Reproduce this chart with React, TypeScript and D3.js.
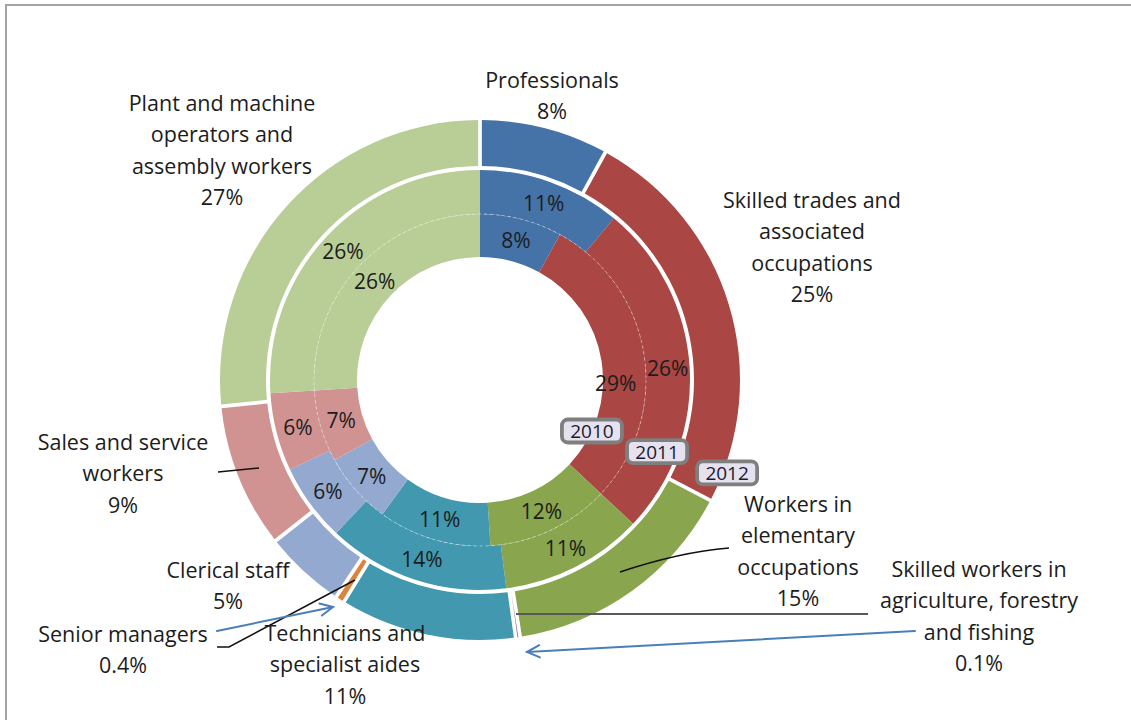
import * as d3 from "d3";

const W = 1131;
const H = 720;
const CX = 480;
const CY = 380;
const FONT = "'Open Sans', 'Noto Sans', sans-serif";
const LINE_H = 31.5;

// categories clockwise from 12 o'clock
const CATEGORIES = [
  "Professionals",
  "Skilled trades and associated occupations",
  "Workers in elementary occupations",
  "Skilled workers in agriculture, forestry and fishing",
  "Technicians and specialist aides",
  "Senior managers",
  "Clerical staff",
  "Sales and service workers",
  "Plant and machine operators and assembly workers",
];
const COLORS = [
  "#4572A7", "#AA4643", "#89A54E", "#71588F", "#4198AF",
  "#DB843D", "#93A9CF", "#D19392", "#B9CD96",
];
const VALUES_2010 = [8, 29, 12, 0, 11, 0, 7, 7, 26];
const VALUES_2011 = [11, 26, 11, 0, 14, 0, 6, 6, 26];
const VALUES_2012 = [8, 25, 15, 0.1, 11, 0.4, 5, 9, 27];
const YEARS = ["2010", "2011", "2012"];

// wrapped text of the outer (2012) labels
const LABEL_LINES = [
  ["Professionals"],
  ["Skilled trades and", "associated", "occupations"],
  ["Workers in", "elementary", "occupations"],
  ["Skilled workers in", "agriculture, forestry", "and fishing"],
  ["Technicians and", "specialist aides"],
  ["Senior managers"],
  ["Clerical staff"],
  ["Sales and service", "workers"],
  ["Plant and machine", "operators and", "assembly workers"],
];

// first line centre of each outer label, relative to the pie centre
const LABEL_POS: [number, number][] = [
  [72, -301], [332, -181], [318, 123], [499, 188], [-135, 252],
  [-357, 253], [-252, 189], [-357, 61], [-258, -278],
];

const RINGS = [
  { values: VALUES_2010, inner: 123, outer: 166, pad: 0 },
  { values: VALUES_2011, inner: 166, outer: 210, pad: 0 },
  { values: VALUES_2012, inner: 214, outer: 260, pad: 0.011 },
];

// year tags: angle (deg clockwise from top) and radius
const YEAR_TAGS = [
  { a: 114.5, r: 123 },
  { a: 112, r: 191 },
  { a: 110.6, r: 264 },
];

// excel moved this one data label off its centroid
const NUDGE: Record<string, [number, number]> = { "0-1": [-7, 26] };

const fmt = (v: number) => `${v}%`;

function Arrow({ x1, y1, x2, y2 }: { x1: number; y1: number; x2: number; y2: number }) {
  const ang = Math.atan2(y2 - y1, x2 - x1);
  const L = 14;
  const s = 0.45;
  const p1 = [x2 - L * Math.cos(ang - s), y2 - L * Math.sin(ang - s)];
  const p2 = [x2 - L * Math.cos(ang + s), y2 - L * Math.sin(ang + s)];
  return (
    <g stroke="#4A7EBB" strokeWidth={2} fill="none" strokeLinecap="round">
      <line x1={x1} y1={y1} x2={x2} y2={y2} />
      <path d={`M${p1[0]},${p1[1]}L${x2},${y2}L${p2[0]},${p2[1]}`} />
    </g>
  );
}

export default function App() {
  const rings = RINGS.map((ring) => {
    const pie = d3
      .pie<number>()
      .sort(null)
      .value((d) => d)
      .padAngle(ring.pad);
    const arc = d3
      .arc<d3.PieArcDatum<number>>()
      .innerRadius(ring.inner)
      .outerRadius(ring.outer);
    return { ...ring, arcs: pie(ring.values), arc };
  });

  return (
    <svg
      width={W}
      height={H}
      style={{ position: "absolute", left: 0, top: 0, background: "#fff" }}
      fontFamily={FONT}
    >
      {/* frame */}
      <path d={`M6,${H}V5H${W}`} fill="none" stroke="#a3a3a3" strokeWidth={2} />

      <g transform={`translate(${CX},${CY})`}>
        {rings.map((ring, ri) => (
          <g key={ri}>
            {ring.arcs.map((a, i) =>
              a.data > 0 ? <path key={i} d={ring.arc(a) || ""} fill={COLORS[i]} /> : null
            )}
          </g>
        ))}
        {/* faint dashed split between 2010 and 2011 */}
        <circle r={166} fill="none" stroke="#fff" strokeOpacity={0.55} strokeWidth={0.8} strokeDasharray="3 3" />

        {/* data labels of the two inner rings */}
        {rings.slice(0, 2).map((ring, ri) =>
          ring.arcs.map((a, i) => {
            if (a.data <= 0) return null;
            const [x, y] = ring.arc.centroid(a);
            const n = NUDGE[`${ri}-${i}`] || [0, 0];
            return (
              <text
                key={`${ri}-${i}`}
                x={x + n[0]}
                y={y + n[1]}
                textAnchor="middle"
                dominantBaseline="central"
                fontSize={21}
                fill="#1c1c1c"
              >
                {fmt(a.data)}
              </text>
            );
          })
        )}

        {/* year tags */}
        {YEAR_TAGS.map((t, i) => {
          const rad = (t.a * Math.PI) / 180;
          const x = t.r * Math.sin(rad);
          const y = -t.r * Math.cos(rad);
          return (
            <g key={i} transform={`translate(${x},${y})`}>
              <rect x={-30} y={-11.5} width={60} height={23} rx={6} fill="#E6E1EE" stroke="#7f7f7f" strokeWidth={3.8} />
              <text textAnchor="middle" dominantBaseline="central" fontSize={19} fill="#1a1a2e">
                {YEARS[i]}
              </text>
            </g>
          );
        })}
      </g>

      {/* leader lines */}
      <g stroke="#111" strokeWidth={1.5} fill="none">
        <path d="M218,472L259,468" />
        <path d="M620,572Q680,552 729,548" />
        <path d="M217,647H229L355,580" />
      </g>
      <line x1={516} y1={614} x2={868} y2={614} stroke="#595959" strokeWidth={2} />
      <Arrow x1={915} y1={631} x2={527} y2={652} />
      <Arrow x1={217} y1={631} x2={333} y2={607} />

      {/* outer labels */}
      {LABEL_LINES.map((lines, i) => {
        const [dx, dy] = LABEL_POS[i];
        const all = [...lines, fmt(VALUES_2012[i])];
        return (
          <text key={i} textAnchor="middle" fontSize={21.5} fill="#1c1c1c">
            {all.map((l, j) => (
              <tspan key={j} x={CX + dx} y={CY + dy + j * LINE_H} dominantBaseline="central">
                {l}
              </tspan>
            ))}
          </text>
        );
      })}
    </svg>
  );
}
